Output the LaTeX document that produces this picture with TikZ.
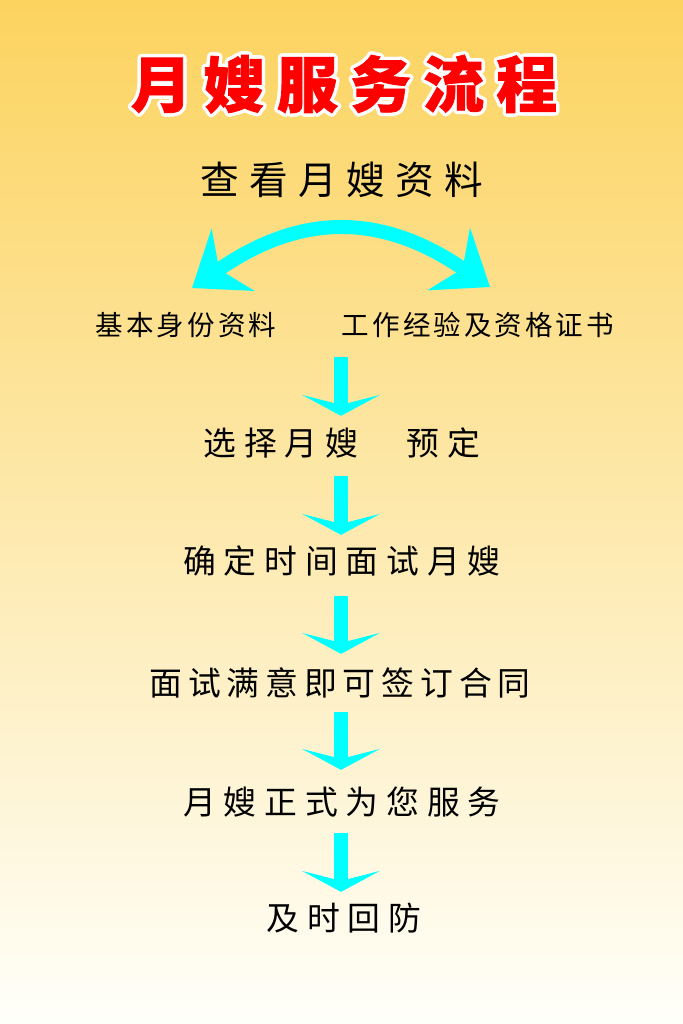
\documentclass[tikz,border=0pt]{standalone}
\usepackage{fontspec}
\newfontfamily\mbtitle{Noto Sans CJK SC}[LetterSpace=20,FakeBold=1.2]
\newfontfamily\mblead{Noto Sans CJK SC}[LetterSpace=26]
\newfontfamily\mbbranch{Noto Sans CJK SC}[LetterSpace=11]
\newfontfamily\mbstage{Noto Sans CJK SC}[LetterSpace=24]
\newfontfamily\mbstagetight{Noto Sans CJK SC}[LetterSpace=18]
\usepackage{xcolor}
\definecolor{mbsun}{HTML}{FCD35F}
\definecolor{mbcream}{HTML}{FFFFFA}
\definecolor{mbcyan}{HTML}{00FFFF}
\definecolor{mbred}{HTML}{FF0000}
\usepackage{tikz}
\usetikzlibrary{arrows.meta,calc}

\begin{document}
\begin{tikzpicture}[
  x=0.03cm, y=-0.03cm,
  every node/.style={inner sep=0pt},
  heading/.style={font=\mbtitle\bfseries\fontsize{52}{52}\selectfont, text=mbred, text height=45.76pt, text depth=6.24pt},
  halo/.style={heading, text=white},
  lead/.style={font=\mblead\fontsize{33}{33}\selectfont, text height=29.04pt, text depth=3.96pt},
  branch/.style={font=\mbbranch\fontsize{23.5}{23.5}\selectfont, text height=20.68pt, text depth=2.82pt},
  stage/.style={font=\mbstage\fontsize{28}{28}\selectfont, text height=24.64pt, text depth=3.36pt},
  stagetight/.style={stage, font=\mbstagetight\fontsize{28}{28}\selectfont},
  flow/.style={draw=mbcyan, line width=0.42cm, -{Stealth[length=0.63cm,width=2.34cm,inset=0.3cm,line width=0pt]}},
  swing/.style={draw=mbcyan, line width=0.42cm,
    {Stealth[length=1.5cm,width=2.28cm,inset=0.51cm,line width=0pt]}-{Stealth[length=1.5cm,width=2.28cm,inset=0.51cm,line width=0pt]}}
]
% background
\fill[top color=mbsun, bottom color=mbcream] (0,0) rectangle (683,1024);

% title with white rim
\foreach \a in {0,24,...,336}
  \node[halo] (halo-\a) at ($(344,84)+(\a:3.5)$) {月嫂服务流程};
\node[heading] (title) at (344,84) {月嫂服务流程};

\node[lead] (look) at (342,180) {查看月嫂资料};
\node[branch] (basic) at (186,325) {基本身份资料};
\node[branch] (cert) at (478,325) {工作经验及资格证书};
\node[stage] (choose) at (342,443) {选择月嫂　预定};
\node[stage] (meet) at (342,561) {确定时间面试月嫂};
\node[stagetight] (sign) at (340,683) {面试满意即可签订合同};
\node[stage] (serve) at (342,802) {月嫂正式为您服务};
\node[stage] (visit) at (344,918) {及时回防};

% two-way arc
\coordinate (lefttip) at (192,288);
\coordinate (righttip) at (490,287);
\draw[swing] (lefttip) .. controls (301,213) and (381,213) .. (righttip);

% steps
\coordinate (merge) at (341,357);
\draw[flow, shorten >=0.315cm] (merge) -- (merge |- choose.north);
\draw[flow, shorten <=0.495cm, shorten >=0.285cm] (merge |- choose.south) -- (merge |- meet.north);
\draw[flow, shorten <=0.555cm, shorten >=0.375cm] (merge |- meet.south) -- (merge |- sign.north);
\draw[flow, shorten <=0.375cm, shorten >=0.465cm] (merge |- sign.south) -- (merge |- serve.north);
\draw[flow, shorten <=0.435cm, shorten >=0.285cm] (merge |- serve.south) -- (merge |- visit.north);
\end{tikzpicture}
\end{document}
